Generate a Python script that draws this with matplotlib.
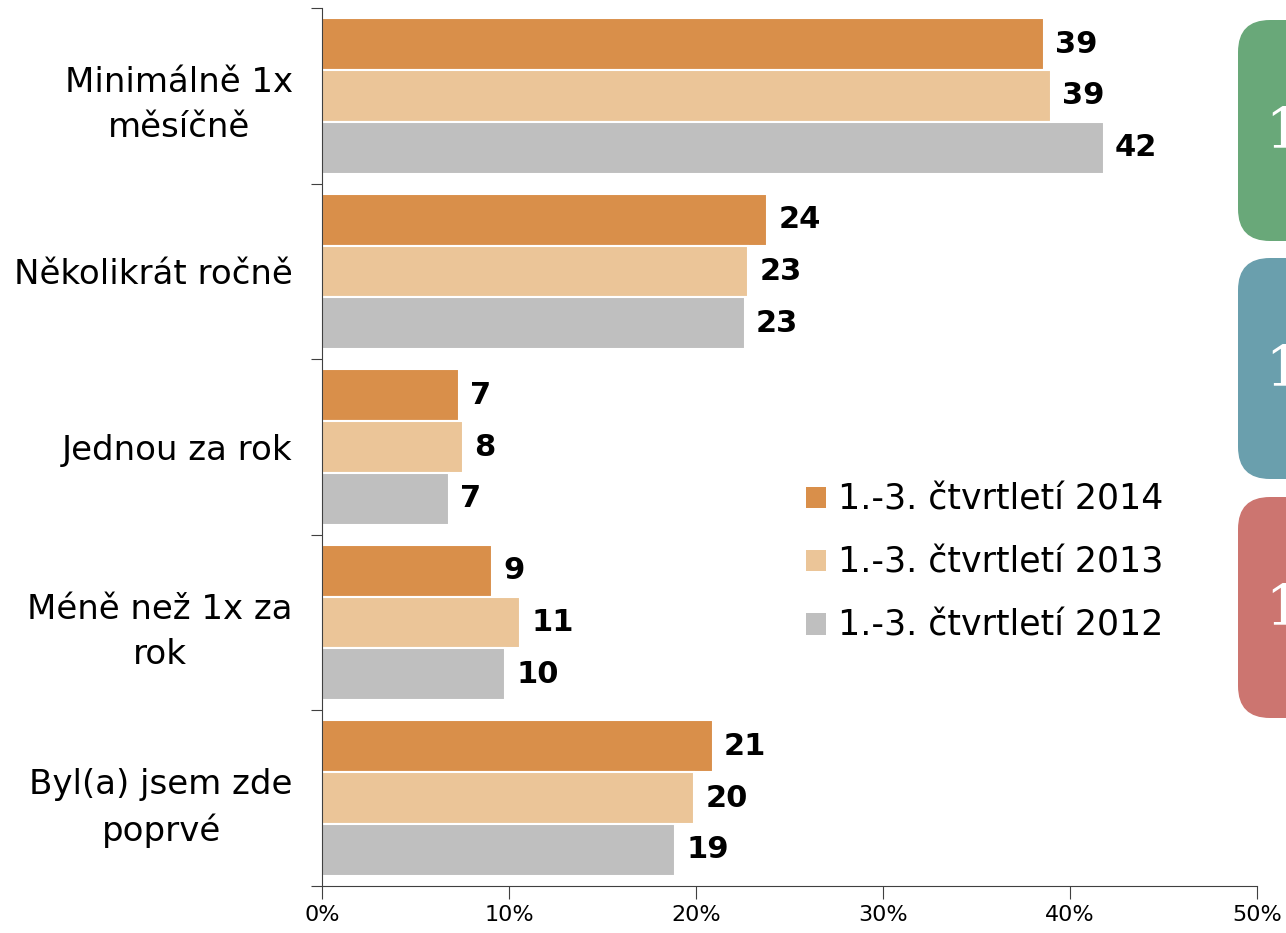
import matplotlib
matplotlib.use('Agg')
import matplotlib.pyplot as plt
from matplotlib.patches import Patch, FancyBboxPatch

cats = ['Minimálně 1x\nměsíčně', 'Několikrát ročně', 'Jednou za rok', 'Méně než 1x za\nrok', 'Byl(a) jsem zde\npoprvé']
series = ['1.-3. čtvrtletí 2014', '1.-3. čtvrtletí 2013', '1.-3. čtvrtletí 2012']
v2014 = [38.6, 23.8, 7.3, 9.1, 20.9]
v2013 = [39.0, 22.8, 7.55, 10.6, 19.9]
v2012 = [41.8, 22.6, 6.8, 9.8, 18.9]
colors = ['#D98F4A', '#EBC598', '#BFBFBF']
xticks = [0, 10, 20, 30, 40, 50]

fig = plt.figure(figsize=(12.86, 9.33), dpi=100)
ax = fig.add_axes([0.2504, 0.0504, 0.7271, 0.9410])

h = 0.295
ys = list(range(len(cats)))
for k, (vals, c) in enumerate(zip([v2014, v2013, v2012], colors)):
    pos = [y + (k - 1) * h for y in ys]
    bars = ax.barh(pos, vals, height=h, color=c, edgecolor='white', linewidth=1.5, label=series[k])
    for b, v in zip(bars, vals):
        ax.annotate(f'{v:.0f}', (v, b.get_y() + b.get_height() / 2), xytext=(8, 0),
                    textcoords='offset points', ha='left', va='center',
                    fontsize=22, fontweight='bold', color='black')

ax.set_ylim(len(cats) - 0.5, -0.5)
ax.set_xlim(0, 50)
ax.set_yticks([y - 0.5 for y in range(len(cats) + 1)])
ax.set_yticklabels([])
ax.set_yticks(ys, minor=True)
ax.set_yticklabels(cats, minor=True, fontsize=24.5)
for t in ax.get_yticklabels(minor=True):
    t.set_multialignment('center')
    t.set_linespacing(1.45)
ax.tick_params(axis='y', which='minor', length=0, pad=21)
ax.tick_params(axis='y', which='major', length=8, direction='out', color='#404040')
ax.set_xticks(xticks)
ax.set_xticklabels([f'{x}%' for x in xticks], fontsize=16)
ax.tick_params(axis='x', length=9, direction='out', pad=5, color='#404040')
for s in ['top', 'right']:
    ax.spines[s].set_visible(False)
ax.spines['left'].set_color('#404040')
ax.spines['bottom'].set_color('#404040')

handles = [Patch(facecolor=c, edgecolor='none') for c in colors]
fig.legend(handles, series, loc='upper left', bbox_to_anchor=(0.6132, 0.5013),
           frameon=False, fontsize=25, borderpad=0, handlelength=0.58, handleheight=0.58,
           handletextpad=0.35, labelspacing=0.84)

# side decoration boxes
ov = fig.add_axes([0, 0, 1, 1], zorder=5)
ov.set_xlim(0, 1286); ov.set_ylim(933, 0); ov.axis('off')
box_cols = ['#69A879', '#6A9FAD', '#CC7570']
box_tops = [20, 258, 497]
for c, t in zip(box_cols, box_tops):
    ov.add_patch(FancyBboxPatch((1238, t), 120, 221, boxstyle='round,pad=0,rounding_size=32',
                                facecolor=c, edgecolor='none'))
    ov.text(1265, t + 112, '1', color='white', fontsize=40, family='DejaVu Serif',
            ha='left', va='center')

fig.savefig('out.png', dpi=100)
